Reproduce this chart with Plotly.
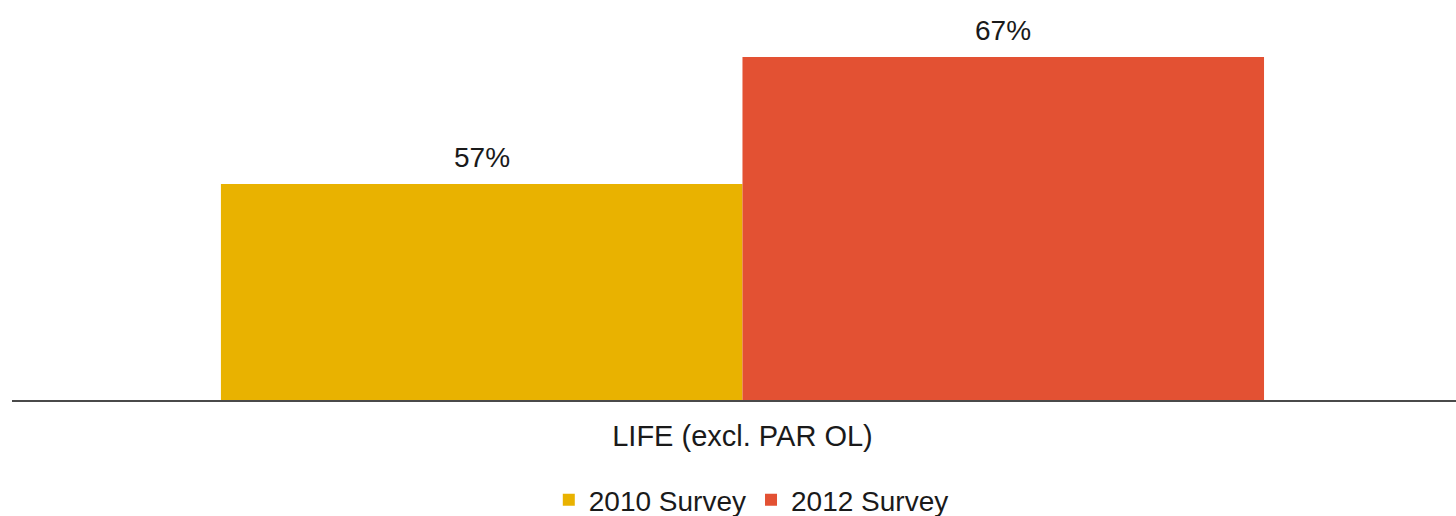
import plotly.graph_objects as go

# Survey results for the LIFE group
categories = ["LIFE (excl. PAR OL)"]
series_names = ["2010 Survey", "2012 Survey"]
series_values = [[57], [67]]
series_colors = ["#E9B200", "#E35133"]

y_min, y_max = 40, 70
bargap = 0.286

fig = go.Figure()
for name, vals, col in zip(series_names, series_values, series_colors):
    fig.add_trace(go.Bar(
        x=categories, y=vals, name=name,
        marker=dict(color=col, line=dict(width=0)),
        hoverinfo="skip",
    ))

# value labels above each bar
half = (1 - bargap) / 4
offsets = [-half, half]
for vals, off in zip(series_values, offsets):
    for i, v in enumerate(vals):
        fig.add_annotation(
            x=i + off, y=v, xref="x", yref="y",
            text=f"{v}%", showarrow=False,
            yanchor="middle", yshift=27,
            font=dict(size=28, color="#1a1a1a", family="Liberation Sans, Arial"),
        )

fig.update_layout(
    width=1456, height=516,
    margin=dict(l=12, r=0, t=19, b=116),
    paper_bgcolor="white", plot_bgcolor="white",
    barmode="group", bargap=bargap, bargroupgap=0,
    font=dict(family="Liberation Sans, Arial", size=28, color="#1a1a1a"),
    xaxis=dict(
        range=[-0.5, 0.4884],
        showline=True, linecolor="#4a4a4a", linewidth=2,
        showgrid=False, ticks="", ticklabelstandoff=9,
        tickfont=dict(size=29),
    ),
    yaxis=dict(range=[y_min, y_max], visible=False, showgrid=False),
    showlegend=True,
    legend=dict(
        orientation="h", xref="container", yref="container",
        x=0.516, xanchor="center", y=0.031, yanchor="middle",
        font=dict(size=28), itemwidth=30, traceorder="normal",
    ),
)

fig.write_html("out.html")
